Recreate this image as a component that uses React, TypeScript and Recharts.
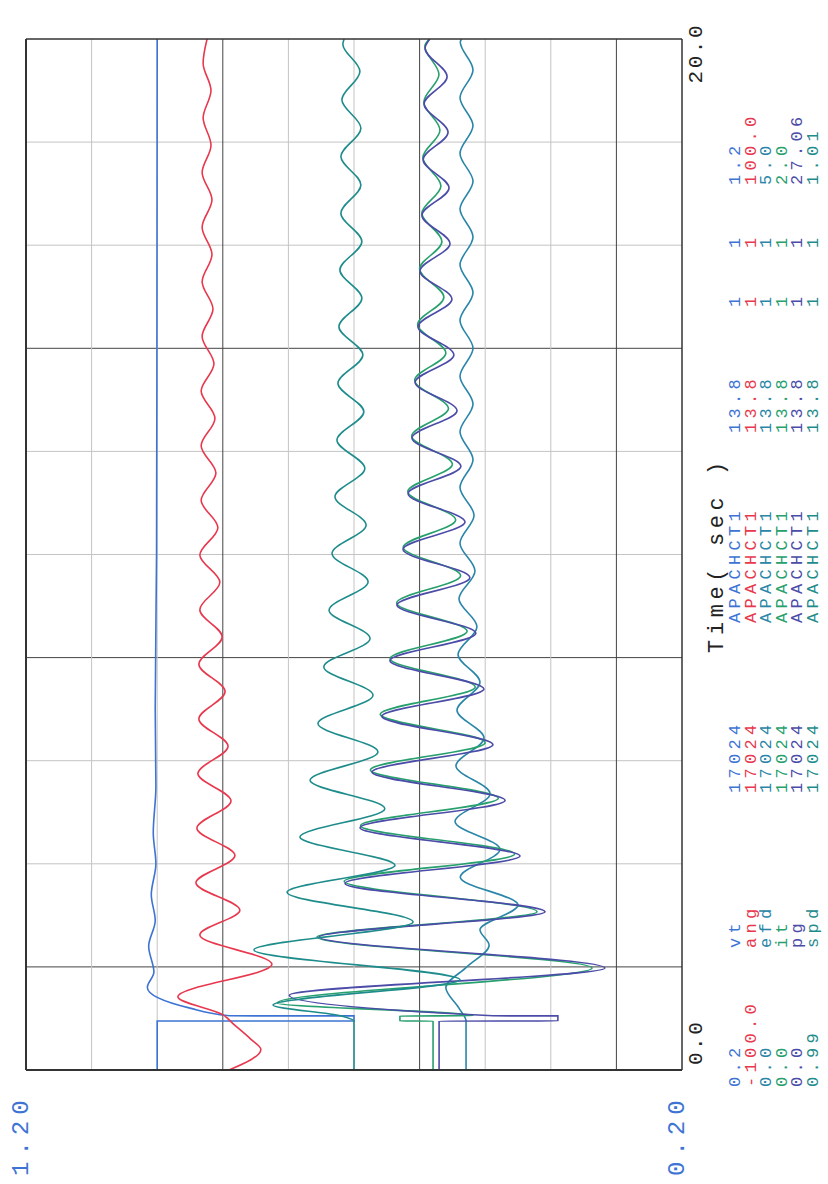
import { Line, LineChart, ReferenceLine, XAxis, YAxis } from "recharts";

// [time (s), value]
const vtPts = [
  [0, 1.0], [0.95, 1.0], [0.951, 0.7], [1.05, 0.7], [1.051, 0.89], [1.2, 0.95], [1.6, 1.015],
  [1.9, 1.005], [2.4, 1.013], [2.9, 1.003], [3.4, 1.009], [4.0, 1.002], [4.6, 1.006], [5.5, 1.002],
  [7, 1.003], [10, 1.001], [20, 1.0],
];
const angPts = [
  [0, 38.1], [0.4, 28.4], [0.6, 31.5], [0.9, 36.9], [1.07, 39.9], [1.42, 53.7], [2.05, 25.0],
  [2.62, 47.0], [3.1, 34.8], [3.63, 48.2], [4.16, 36.3], [4.69, 47.9], [5.22, 37.5], [5.75, 47.6],
  [6.28, 38.4], [6.81, 47.3], [7.34, 39.3], [7.87, 47.3], [8.4, 40.2], [8.93, 47.0], [9.46, 40.9],
  [9.99, 47.0], [10.52, 41.5], [11.05, 46.6], [11.58, 42.1], [12.11, 46.6], [12.64, 42.4],
  [13.17, 46.6], [13.7, 42.7], [14.23, 46.3], [14.76, 43.0], [15.29, 46.3], [15.82, 43.3],
  [16.35, 46.3], [16.88, 43.3], [17.41, 46.3], [17.94, 43.6], [18.47, 46.0], [19.0, 43.6],
  [19.53, 46.0], [20, 44.8],
];
const efdPts = [
  [0, 1.646], [0.95, 1.646], [1.2, 1.7], [1.6, 1.8], [2.0, 1.64], [2.42, 1.47], [2.72, 1.54],
  [3.2, 1.25], [3.74, 1.69], [4.28, 1.387], [4.82, 1.73], [5.36, 1.463], [5.9, 1.723],
  [6.44, 1.509], [6.98, 1.715], [7.52, 1.54], [8.06, 1.707], [8.6, 1.563], [9.14, 1.7],
  [9.68, 1.578], [10.22, 1.692], [10.76, 1.585], [11.3, 1.692], [11.84, 1.593], [12.38, 1.692],
  [12.92, 1.593], [13.46, 1.692], [14.0, 1.593], [14.54, 1.692], [15.08, 1.593], [15.62, 1.692],
  [16.16, 1.593], [16.7, 1.692], [17.24, 1.593], [17.78, 1.692], [18.32, 1.593], [18.86, 1.692],
  [19.4, 1.593], [19.94, 1.69], [20, 1.68],
];
const itPts = [
  [0, 0.759], [0.95, 0.759], [0.951, 0.86], [1.05, 0.86], [1.051, 0.637], [1.3, 1.235],
  [1.98, 0.274], [2.58, 1.113], [3.07, 0.442], [3.66, 1.03], [4.19, 0.51], [4.74, 0.98],
  [5.27, 0.56], [5.82, 0.95], [6.35, 0.6], [6.9, 0.92], [7.43, 0.63], [7.98, 0.89], [8.51, 0.655],
  [9.06, 0.87], [9.59, 0.675], [10.14, 0.85], [10.67, 0.69], [11.22, 0.836], [11.75, 0.7],
  [12.3, 0.824], [12.83, 0.712], [13.38, 0.815], [13.91, 0.72], [14.46, 0.806], [14.99, 0.726],
  [15.54, 0.8], [16.07, 0.732], [16.62, 0.793], [17.15, 0.735], [17.7, 0.79], [18.23, 0.738],
  [18.78, 0.787], [19.31, 0.741], [19.86, 0.784], [20, 0.77],
];
const pgPts = [
  [0, 10.02], [0.95, 10.02], [0.951, 5.12], [1.05, 5.12], [1.051, 7.8], [1.45, 16.2], [1.98, 3.18],
  [2.58, 14.97], [3.07, 5.65], [3.62, 13.9], [4.15, 6.68], [4.7, 13.28], [5.23, 7.3], [5.78, 12.79],
  [6.31, 7.8], [6.86, 12.38], [7.39, 8.17], [7.94, 12.05], [8.47, 8.5], [9.02, 11.76], [9.55, 8.75],
  [10.1, 11.51], [10.63, 8.95], [11.18, 11.3], [11.71, 9.12], [12.26, 11.14], [12.79, 9.28],
  [13.34, 11.01], [13.87, 9.41], [14.42, 10.89], [14.95, 9.49], [15.5, 10.81], [16.03, 9.57],
  [16.58, 10.73], [17.11, 9.61], [17.66, 10.68], [18.19, 9.65], [18.74, 10.64], [19.27, 9.69],
  [19.82, 10.6], [20, 10.4],
];
const spdPts = [
  [0, 1.0], [0.95, 1.0], [1.05, 1.0004], [1.26, 1.00247], [1.75, 0.99677], [2.33, 1.00305],
  [2.87, 0.9982], [3.45, 1.00204], [3.97, 0.99875], [4.52, 1.00165], [5.07, 0.99906],
  [5.62, 1.00134], [6.17, 0.99927], [6.72, 1.0011], [7.27, 0.99942], [7.82, 1.00092],
  [8.37, 0.99951], [8.92, 1.00076], [9.47, 0.99957], [10.02, 1.00067], [10.57, 0.99963],
  [11.12, 1.00058], [11.67, 0.99967], [12.22, 1.00052], [12.77, 0.9997], [13.32, 1.00049],
  [13.87, 0.99973], [14.42, 1.00046], [14.97, 0.99976], [15.52, 1.00043], [16.07, 0.99976],
  [16.62, 1.0004], [17.17, 0.99979], [17.72, 1.0004], [18.27, 0.99979], [18.82, 1.00037],
  [19.37, 0.99982], [19.9, 1.00034], [20, 1.0003],
];

const names = ["vt", "ang", "efd", "it", "pg", "spd"];
const mins = ["0.2", "-100.0", "0.0", "0.0", "0.0", "0.99"];
const maxs = ["1.2", "100.0", "5.0", "2.0", "27.06", "1.01"];
const colors = ["#3d74d4", "#e8384e", "#2a86a8", "#27a06e", "#4b4ba8", "#1f8c8c"];
const allPts = [vtPts, angPts, efdPts, itPts, pgPts, spdPts];
const timeTicks = [0, 2, 4, 6, 8, 10, 12, 14, 16, 18, 20];
const vtTicks = [0.2, 0.3, 0.4, 0.5, 0.6, 0.7, 0.8, 0.9, 1.0, 1.1, 1.2];
const darkTimes = [2, 8, 14];
const darkVts = [0.3, 0.6, 0.9];

const W = 1184;
const H = 828;
const mono = "'Liberation Mono', 'DejaVu Sans Mono', monospace";

const TimeTick = (props: any) => {
  const { x, y, payload } = props;
  const first = payload.value === 0;
  return (
    <text x={first ? x + 5 : x + 16} y={y + 20} textAnchor={first ? "start" : "end"}
      fontFamily={mono} fontSize={21} letterSpacing={2.5} fill="#222">
      {payload.value.toFixed(1)}
    </text>
  );
};

// value labels sit left of the plot, start at the page edge
const VtTick = (props: any) => {
  const { y, payload } = props;
  return (
    <text x={8} y={y + 2} textAnchor="start" fontFamily={mono} fontSize={24}
      letterSpacing={6} fill={colors[0]}>
      {payload.value.toFixed(2)}
    </text>
  );
};

const legendCols = [97, 236, 391, 561, 751, 877, 936, 999];

const App = () => {
  return (
    <div style={{ position: "absolute", left: 0, top: 0, width: W, height: H,
      transform: `translateY(${W}px) rotate(-90deg)`, transformOrigin: "0 0", background: "#fff" }}>
      <LineChart width={W} height={H} margin={{ top: 26, right: 39, bottom: 116, left: 14 }}>
        <XAxis dataKey="t" type="number" domain={[0, 20]} ticks={[0, 20]} height={30}
          axisLine={false} tickLine={false} tickSize={0} tickMargin={0} tick={<TimeTick />}
          allowDataOverflow />
        <YAxis yAxisId="vt" type="number" domain={[0.2, 1.2]} ticks={[0.2, 1.2]} width={100}
          axisLine={false} tickLine={false} tickSize={0} tickMargin={0} tick={<VtTick />}
          allowDataOverflow />
        {names.slice(1).map((n, i) => (
          <YAxis key={n} yAxisId={n} type="number" hide allowDataOverflow
            domain={[parseFloat(mins[i + 1]), parseFloat(maxs[i + 1])]} />
        ))}
        {timeTicks.slice(1, -1).map((t) => (
          <ReferenceLine key={"t" + t} x={t} yAxisId="vt"
            stroke={darkTimes.includes(t) ? "#444" : "#c4c4c4"} strokeWidth={1} />
        ))}
        {vtTicks.slice(1, -1).map((v) => (
          <ReferenceLine key={"v" + v} y={v} yAxisId="vt"
            stroke={darkVts.some((d) => Math.abs(d - v) < 1e-6) ? "#444" : "#c4c4c4"} strokeWidth={1} />
        ))}
        {allPts.map((pts, i) => (
          <Line key={names[i]} yAxisId={names[i]} data={pts.map(([t, v]) => ({ t, v }))}
            dataKey="v" type="monotone" stroke={colors[i]} strokeWidth={1.6} dot={false}
            isAnimationActive={false} />
        ))}
        <ReferenceLine x={0} yAxisId="vt" stroke="#333" strokeWidth={2} />
        <ReferenceLine x={20} yAxisId="vt" stroke="#333" strokeWidth={1.5} />
        <ReferenceLine y={0.2} yAxisId="vt" stroke="#333" strokeWidth={1.5} />
        <ReferenceLine y={1.2} yAxisId="vt" stroke="#333" strokeWidth={2} />
      </LineChart>
      <svg width={W} height={H} style={{ position: "absolute", left: 0, top: 0, pointerEvents: "none" }}>
        <text x={629} y={723} textAnchor="middle" fontFamily={mono} fontSize={22}
          letterSpacing={4.6} fill="#222">Time( sec )</text>
        {names.map((n, i) => {
          const cells = [mins[i], n, "17024", "APACHCT1", "13.8", "1", "1", maxs[i]];
          const y = 740 + i * 15.6;
          return cells.map((c, j) => (
            <text key={n + j} x={legendCols[j]} y={y} fontFamily={mono} fontSize={17}
              letterSpacing={4.3} fill={colors[i]}>{c}</text>
          ));
        })}
      </svg>
    </div>
  );
};

export default App;
